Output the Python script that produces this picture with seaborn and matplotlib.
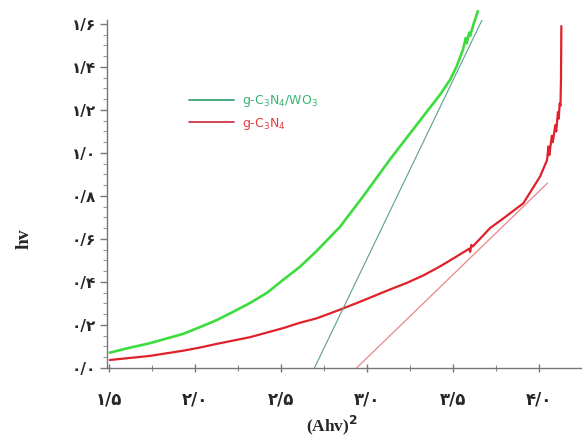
import numpy as np
import pandas as pd
import matplotlib
matplotlib.use("Agg")
import matplotlib.pyplot as plt
import seaborn as sns
from matplotlib.lines import Line2D
from matplotlib.ticker import MultipleLocator

# curve g-C3N4/WO3
green_x = [1.506, 1.60, 1.738, 1.93, 2.03, 2.128, 2.22, 2.32, 2.42, 2.512, 2.61,
           2.709, 2.843, 2.977, 3.134, 3.327, 3.424, 3.483, 3.52, 3.558, 3.575,
           3.58, 3.595, 3.60, 3.62, 3.645]
green_y = [0.071, 0.09, 0.115, 0.158, 0.19, 0.223, 0.26, 0.302, 0.35, 0.409, 0.47,
           0.545, 0.656, 0.797, 0.97, 1.17, 1.27, 1.34, 1.40, 1.48, 1.535,
           1.51, 1.56, 1.545, 1.60, 1.66]

# curve g-C3N4
red_x = [1.506, 1.738, 1.93, 2.03, 2.128, 2.32, 2.512, 2.61, 2.709, 2.84, 2.96,
         3.134, 3.23, 3.327, 3.42, 3.52, 3.595, 3.60, 3.607, 3.615, 3.715, 3.80,
         3.909, 4.006, 4.047, 4.055, 4.06, 4.075, 4.08, 4.095, 4.10, 4.11, 4.115,
         4.12, 4.125, 4.128, 4.13]
red_y = [0.037, 0.056, 0.08, 0.095, 0.112, 0.143, 0.185, 0.21, 0.231, 0.27, 0.308,
         0.365, 0.395, 0.43, 0.47, 0.518, 0.555, 0.54, 0.572, 0.565, 0.65, 0.70,
         0.766, 0.89, 0.967, 1.03, 0.99, 1.08, 1.05, 1.13, 1.10, 1.19, 1.16,
         1.23, 1.22, 1.35, 1.59]

# tangent (linear fit) lines
green_fit_x = [2.695, 3.67]
green_fit_y = [0.0, 1.62]
red_fit_x = [2.94, 4.05]
red_fit_y = [0.0, 0.86]

x_ticks = [1.5, 2.0, 2.5, 3.0, 3.5, 4.0]
x_tick_labels = ["۱/۵", "۲/۰", "۲/۵", "۳/۰", "۳/۵", "۴/۰"]
y_ticks = [0.0, 0.2, 0.4, 0.6, 0.8, 1.0, 1.2, 1.4, 1.6]
y_tick_labels = ["۰/۰", "۰/۲", "۰/۴", "۰/۶", "۰/۸", "۱/۰", "۱/۲", "۱/۴", "۱/۶"]

sns.set_style("white")
plt.rcParams['font.family'] = ['DejaVu Sans']

fig = plt.figure(figsize=(5.82, 4.37), dpi=100)
ax = fig.add_axes([0.184, 0.158, 0.816, 0.797])

green_df = pd.DataFrame({"x": green_x, "y": green_y})
red_df = pd.DataFrame({"x": red_x, "y": red_y})

sns.lineplot(data=green_df, x="x", y="y", sort=False, estimator=None,
             color="#3ddc3d", linewidth=1.9, ax=ax, clip_on=False)
sns.lineplot(data=red_df, x="x", y="y", sort=False, estimator=None,
             color="#e0202a", linewidth=1.6, ax=ax)
sns.lineplot(x=green_fit_x, y=green_fit_y, color="#5aa08a", linewidth=0.8, ax=ax)
sns.lineplot(x=red_fit_x, y=red_fit_y, color="#e8868a", linewidth=0.9, ax=ax)

ax.set_xlim(1.49, 4.25)
ax.set_ylim(0, 1.62)

ax.set_xticks(x_ticks)
ax.set_xticklabels(x_tick_labels, fontsize=12, fontweight="bold")
ax.set_yticks(y_ticks)
ax.set_yticklabels(y_tick_labels, fontsize=11, fontweight="bold")
ax.xaxis.set_minor_locator(MultipleLocator(0.25))
ax.yaxis.set_minor_locator(MultipleLocator(0.05))
ax.tick_params(axis="x", which="major", direction="inout", length=6, width=1,
               color="#777777", pad=13)
ax.tick_params(axis="x", which="minor", direction="inout", length=4, width=0.8,
               color="#888888")
ax.tick_params(axis="y", which="major", direction="out", length=5, width=1,
               color="#777777", pad=3)
ax.tick_params(axis="y", which="minor", direction="out", length=3, width=0.8,
               color="#999999")
ax.tick_params(bottom=True, left=True, which="both")

for s in ["top", "right"]:
    ax.spines[s].set_visible(False)
for s in ["left", "bottom"]:
    ax.spines[s].set_color("#777777")
    ax.spines[s].set_linewidth(1.0)

ax.set_xlabel("(Ahv)$^\\mathbf{2}$", fontsize=12.5, fontweight="bold",
              family="Liberation Serif")
ax.xaxis.set_label_coords(0.474, -0.132)
ax.set_ylabel("hv", fontsize=14, fontweight="bold", family="Liberation Serif")
ax.yaxis.set_label_coords(-0.157, 0.37)

handles = [Line2D([], [], color="#2a9d6a", linewidth=1.2),
           Line2D([], [], color="#c8283c", linewidth=1.2)]
ax.legend(handles, ["g-C$_3$N$_4$/WO$_3$", "g-C$_3$N$_4$"], frameon=False,
          fontsize=9, labelcolor=["#3cb371", "#e03a40"], handlelength=3.6,
          handletextpad=0.64, labelspacing=0.55,
          loc="upper left", bbox_to_anchor=(0.149, 0.822))

fig.savefig("out.png", dpi=100)
